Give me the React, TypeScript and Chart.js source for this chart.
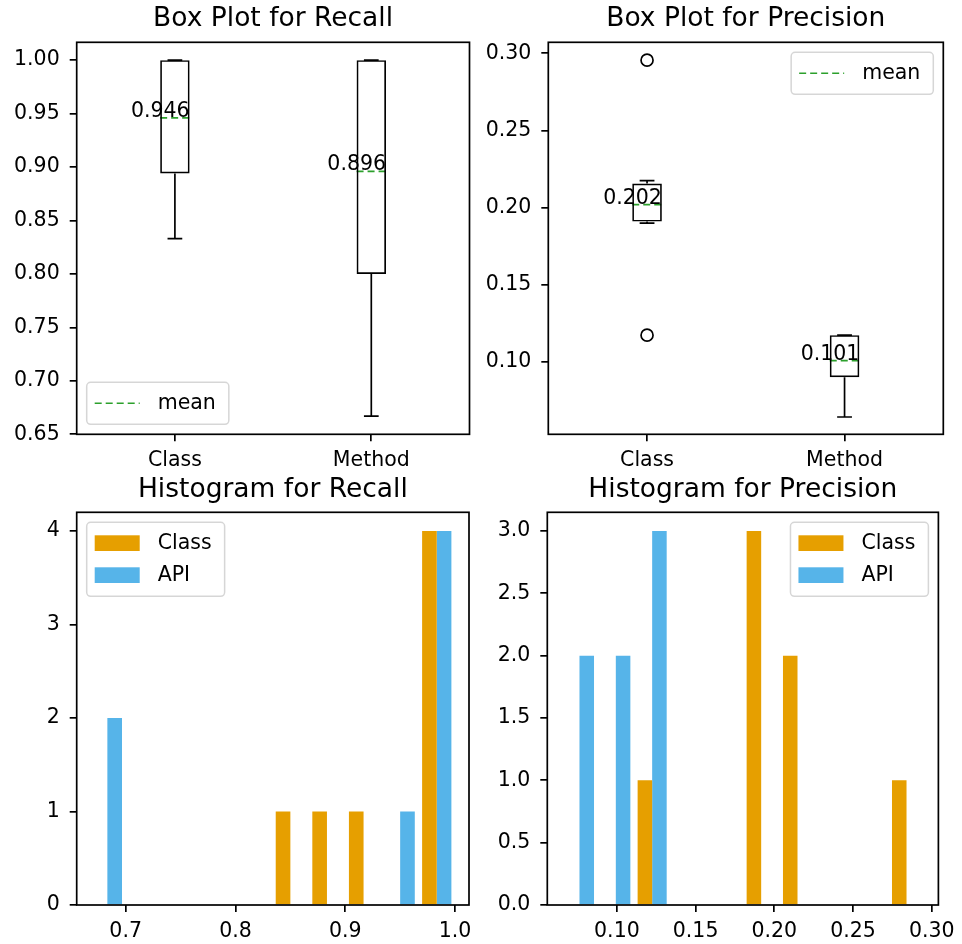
import React, { useEffect, useRef } from "react";
import { Chart, registerables } from "chart.js";

Chart.register(...registerables);

const FONT = "'DejaVu Sans', sans-serif";
const ORANGE = "#E69F00";
const BLUE = "#56B4E9";
const GREEN = "#2ca02c";

// ---------- Box plot data ----------
const boxCategories = ["Class", "Method"];

const recallQ1 = [0.894, 0.8];
const recallQ3 = [1.0, 1.0];
const recallWhiskerLow = [0.833, 0.667];
const recallWhiskerHigh = [1.0, 1.0];
const recallMean = [0.946, 0.896];
const recallOutliers: number[][] = [[], []];

const precisionQ1 = [0.191, 0.0903];
const precisionQ3 = [0.2156, 0.1175];
const precisionWhiskerLow = [0.19, 0.0645];
const precisionWhiskerHigh = [0.2175, 0.1175];
const precisionMean = [0.202, 0.101];
const precisionOutliers: number[][] = [[0.2955, 0.1175], []];

const recallBoxTicks = [0.65, 0.7, 0.75, 0.8, 0.85, 0.9, 0.95, 1.0];
const precisionBoxTicks = [0.1, 0.15, 0.2, 0.25, 0.3];

// ---------- Histogram data ----------
const histSeries = ["Class", "API"];

const recallBinCenters = [0.68333, 0.71667, 0.75, 0.78333, 0.81667, 0.85, 0.88333, 0.91667, 0.95, 0.98333];
const recallClassCounts = [0, 0, 0, 0, 0, 1, 1, 1, 0, 4];
const recallApiCounts = [2, 0, 0, 0, 0, 0, 0, 0, 1, 4];

const precisionBinCenters = [0.07624, 0.09932, 0.1224, 0.14548, 0.16856, 0.19164, 0.21472, 0.2378, 0.26088, 0.28396];
const precisionClassCounts = [0, 0, 1, 0, 0, 3, 2, 0, 0, 1];
const precisionApiCounts = [2, 2, 3, 0, 0, 0, 0, 0, 0, 0];

const recallHistXTicks = [0.7, 0.8, 0.9, 1.0];
const recallHistYTicks = [0, 1, 2, 3, 4];
const precisionHistXTicks = [0.1, 0.15, 0.2, 0.25, 0.3];
const precisionHistYTicks = [0, 0.5, 1.0, 1.5, 2.0, 2.5, 3.0];

// ---------- styling constants ----------
const BOX_W = 0.15;
const CAP_W = 0.075;
const TICK_FONT = 20.5;
const TITLE_FONT = 26.5;
const LINE_W = 1.7;

type LegendItem = { label: string; kind: "line" | "patch"; color: string };

function legendPlugin(items: LegendItem[], loc: "lower left" | "upper right" | "upper left") {
  return {
    id: "mplLegend",
    afterDraw(chart: any) {
      const { ctx, chartArea: a } = chart;
      ctx.save();
      ctx.font = `${TICK_FONT}px ${FONT}`;
      const tw = Math.max(...items.map((it) => ctx.measureText(it.label).width));
      const w = 71 + tw + 13;
      const rowH = 32;
      const h = 42 + (items.length - 1) * rowH;
      const left = loc === "upper right" ? a.right - 10 - w : a.left + 10;
      const top = loc === "lower left" ? a.bottom - 10 - h : a.top + 10;
      ctx.beginPath();
      (ctx as any).roundRect(left, top, w, h, 4);
      ctx.fillStyle = "rgba(255,255,255,0.8)";
      ctx.fill();
      ctx.strokeStyle = "rgba(204,204,204,0.8)";
      ctx.lineWidth = 1.5;
      ctx.stroke();
      items.forEach((it, k) => {
        const y = top + 21 + k * rowH;
        if (it.kind === "line") {
          ctx.save();
          ctx.strokeStyle = it.color;
          ctx.lineWidth = 1.6;
          ctx.setLineDash([7, 4]);
          ctx.beginPath();
          ctx.moveTo(left + 8, y);
          ctx.lineTo(left + 53, y);
          ctx.stroke();
          ctx.restore();
        } else {
          ctx.fillStyle = it.color;
          ctx.fillRect(left + 8, y - 8, 45, 15.7);
        }
        ctx.fillStyle = "#000";
        ctx.textAlign = "left";
        ctx.textBaseline = "middle";
        ctx.fillText(it.label, left + 71, y);
      });
      ctx.restore();
    },
  };
}

const framePlugin = {
  id: "frame",
  afterDatasetsDraw(chart: any) {
    const { ctx, chartArea: a } = chart;
    ctx.save();
    ctx.strokeStyle = "#000";
    ctx.lineWidth = LINE_W;
    ctx.strokeRect(a.left, a.top, a.right - a.left, a.bottom - a.top);
    ctx.restore();
  },
};

type Geo = { yWidth: number; rightPad: number; xHeight: number; titleTop: number; titleBottom: number };

function tickGrid() {
  return {
    display: true,
    drawOnChartArea: false,
    drawTicks: true,
    tickLength: 7,
    color: "#000",
    lineWidth: LINE_W,
    offset: false,
  };
}

function yAxis(min: number, max: number, ticks: number[], digits: number, geo: Geo) {
  return {
    type: "linear",
    min,
    max,
    afterFit: (s: any) => {
      s.width = geo.yWidth;
    },
    afterBuildTicks: (s: any) => {
      s.ticks = ticks.map((v) => ({ value: v }));
    },
    ticks: {
      callback: (v: any) => Number(v).toFixed(digits),
      font: { family: FONT, size: TICK_FONT },
      color: "#000",
      padding: 10,
      autoSkip: false,
    },
    grid: tickGrid(),
    border: { display: false },
  };
}

function xAxis(min: number, max: number, ticks: number[], label: (v: number) => string, geo: Geo) {
  return {
    type: "linear",
    min,
    max,
    offset: false,
    afterFit: (s: any) => {
      s.height = geo.xHeight;
    },
    afterBuildTicks: (s: any) => {
      s.ticks = ticks.map((v) => ({ value: v }));
    },
    ticks: {
      callback: (v: any) => label(Number(v)),
      font: { family: FONT, size: TICK_FONT },
      color: "#000",
      padding: 7,
      autoSkip: false,
      maxRotation: 0,
      minRotation: 0,
    },
    grid: tickGrid(),
    border: { display: false },
  };
}

function titleOpt(text: string, geo: Geo) {
  return {
    display: true,
    text,
    fullSize: false,
    color: "#000",
    font: { family: FONT, size: TITLE_FONT, weight: "normal" as const, lineHeight: 1.2 },
    padding: { top: geo.titleTop, bottom: geo.titleBottom },
  };
}

type BoxPanel = {
  title: string;
  q1: number[];
  q3: number[];
  lo: number[];
  hi: number[];
  mean: number[];
  outliers: number[][];
  yMin: number;
  yMax: number;
  yTicks: number[];
  legendLoc: "lower left" | "upper right";
  geo: Geo;
};

function buildBox(canvas: HTMLCanvasElement, p: BoxPanel) {
  const positions = boxCategories.map((_, i) => i + 1);
  const boxData = positions.map((x, i) => ({ x, y: [p.q1[i], p.q3[i]] }));
  const whisker: any[] = [];
  const caps: any[] = [];
  const means: any[] = [];
  const fliers: any[] = [];
  positions.forEach((x, i) => {
    whisker.push({ x, y: p.q1[i] }, { x, y: p.lo[i] }, { x, y: null }, { x, y: p.q3[i] }, { x, y: p.hi[i] }, { x, y: null });
    caps.push(
      { x: x - CAP_W / 2, y: p.lo[i] },
      { x: x + CAP_W / 2, y: p.lo[i] },
      { x, y: null },
      { x: x - CAP_W / 2, y: p.hi[i] },
      { x: x + CAP_W / 2, y: p.hi[i] },
      { x, y: null }
    );
    means.push({ x: x - BOX_W / 2, y: p.mean[i] }, { x: x + BOX_W / 2, y: p.mean[i] }, { x, y: null });
    p.outliers[i].forEach((v) => fliers.push({ x, y: v }));
  });

  const meanText = {
    id: "meanText",
    afterDatasetsDraw(chart: any) {
      const { ctx } = chart;
      const xs = chart.scales.x;
      const ys = chart.scales.y;
      ctx.save();
      ctx.font = `${TICK_FONT}px ${FONT}`;
      ctx.fillStyle = "#000";
      ctx.textAlign = "right";
      ctx.textBaseline = "alphabetic";
      positions.forEach((x, i) => {
        ctx.fillText(p.mean[i].toFixed(3), xs.getPixelForValue(x + BOX_W / 2), ys.getPixelForValue(p.mean[i]) - 1);
      });
      ctx.restore();
    },
  };

  const lineDs = (data: any[], color: string, dash: number[] = [], width = LINE_W) => ({
    type: "line",
    data,
    borderColor: color,
    borderWidth: width,
    borderDash: dash,
    pointRadius: 0,
    fill: false,
    spanGaps: false,
    tension: 0,
  });

  return new Chart(canvas, {
    type: "bar",
    data: {
      datasets: [
        {
          type: "bar",
          data: boxData as any,
          backgroundColor: "rgba(0,0,0,0)",
          borderColor: "#000",
          borderWidth: LINE_W,
          borderSkipped: false,
          categoryPercentage: BOX_W,
          barPercentage: 1,
        },
        lineDs(whisker, "#000"),
        lineDs(caps, "#000"),
        lineDs(means, GREEN, [7, 4], 1.6),
        {
          type: "scatter",
          data: fliers,
          pointRadius: 6,
          pointBorderColor: "#000",
          pointBackgroundColor: "rgba(0,0,0,0)",
          borderColor: "#000",
          backgroundColor: "rgba(0,0,0,0)",
          pointBorderWidth: LINE_W,
          showLine: false,
        },
      ] as any,
    },
    options: {
      responsive: false,
      animation: false,
      devicePixelRatio: 1,
      layout: { padding: { left: 0, right: p.geo.rightPad, top: 0, bottom: 0 } },
      scales: {
        x: xAxis(0.5, 2.5, positions, (v) => boxCategories[Math.round(v) - 1] ?? "", p.geo),
        y: yAxis(p.yMin, p.yMax, p.yTicks, 2, p.geo),
      } as any,
      plugins: {
        legend: { display: false },
        tooltip: { enabled: false },
        title: titleOpt(p.title, p.geo),
      },
    },
    plugins: [framePlugin, meanText, legendPlugin([{ label: "mean", kind: "line", color: GREEN }], p.legendLoc)],
  } as any);
}

type HistPanel = {
  title: string;
  centers: number[];
  classCounts: number[];
  apiCounts: number[];
  xMin: number;
  xMax: number;
  xTicks: number[];
  xDigits: number;
  yMax: number;
  yTicks: number[];
  yDigits: number;
  legendLoc: "upper left" | "upper right";
  geo: Geo;
};

function buildHist(canvas: HTMLCanvasElement, p: HistPanel) {
  const mk = (label: string, counts: number[], color: string) => ({
    label,
    data: p.centers.map((x, i) => ({ x, y: counts[i] })),
    backgroundColor: color,
    borderWidth: 0,
    categoryPercentage: 0.8,
    barPercentage: 1,
  });
  return new Chart(canvas, {
    type: "bar",
    data: {
      datasets: [mk(histSeries[0], p.classCounts, ORANGE), mk(histSeries[1], p.apiCounts, BLUE)] as any,
    },
    options: {
      responsive: false,
      animation: false,
      devicePixelRatio: 1,
      layout: { padding: { left: 0, right: p.geo.rightPad, top: 0, bottom: 0 } },
      scales: {
        x: xAxis(p.xMin, p.xMax, p.xTicks, (v) => v.toFixed(p.xDigits), p.geo),
        y: yAxis(0, p.yMax, p.yTicks, p.yDigits, p.geo),
      } as any,
      plugins: {
        legend: { display: false },
        tooltip: { enabled: false },
        title: titleOpt(p.title, p.geo),
      },
    },
    plugins: [
      framePlugin,
      legendPlugin(
        [
          { label: histSeries[0], kind: "patch", color: ORANGE },
          { label: histSeries[1], kind: "patch", color: BLUE },
        ],
        p.legendLoc
      ),
    ],
  } as any);
}

const W = 481;
const H = 472;

function Panel({ left, top, build }: { left: number; top: number; build: (c: HTMLCanvasElement) => Chart }) {
  const ref = useRef<HTMLCanvasElement | null>(null);
  useEffect(() => {
    if (!ref.current) return;
    const chart = build(ref.current);
    return () => chart.destroy();
  }, []);
  return (
    <canvas
      ref={ref}
      width={W}
      height={H}
      style={{ position: "absolute", left, top, width: W, height: H, display: "block" }}
    />
  );
}

export default function App() {
  const topGeoL: Geo = { yWidth: 76.7, rightPad: 11.5, xHeight: 37.7, titleTop: 3.1, titleBottom: 7.4 };
  const topGeoR: Geo = { yWidth: 67.3, rightPad: 18.7, xHeight: 37.7, titleTop: 3.1, titleBottom: 7.4 };
  const botGeoL: Geo = { yWidth: 76.7, rightPad: 12, xHeight: 39, titleTop: 2.6, titleBottom: 5.9 };
  const botGeoR: Geo = { yWidth: 66.3, rightPad: 18.7, xHeight: 39, titleTop: 2.6, titleBottom: 5.9 };

  return (
    <div style={{ position: "absolute", left: 0, top: 0, width: 962, height: 944, background: "#fff" }}>
      <Panel
        left={0}
        top={0}
        build={(c) =>
          buildBox(c, {
            title: "Box Plot for Recall",
            q1: recallQ1,
            q3: recallQ3,
            lo: recallWhiskerLow,
            hi: recallWhiskerHigh,
            mean: recallMean,
            outliers: recallOutliers,
            yMin: 0.65,
            yMax: 1.0167,
            yTicks: recallBoxTicks,
            legendLoc: "lower left",
            geo: topGeoL,
          })
        }
      />
      <Panel
        left={481}
        top={0}
        build={(c) =>
          buildBox(c, {
            title: "Box Plot for Precision",
            q1: precisionQ1,
            q3: precisionQ3,
            lo: precisionWhiskerLow,
            hi: precisionWhiskerHigh,
            mean: precisionMean,
            outliers: precisionOutliers,
            yMin: 0.0533,
            yMax: 0.3071,
            yTicks: precisionBoxTicks,
            legendLoc: "upper right",
            geo: topGeoR,
          })
        }
      />
      <Panel
        left={0}
        top={472}
        build={(c) =>
          buildHist(c, {
            title: "Histogram for Recall",
            centers: recallBinCenters,
            classCounts: recallClassCounts,
            apiCounts: recallApiCounts,
            xMin: 0.6554,
            xMax: 1.0127,
            xTicks: recallHistXTicks,
            xDigits: 1,
            yMax: 4.2,
            yTicks: recallHistYTicks,
            yDigits: 0,
            legendLoc: "upper left",
            geo: botGeoL,
          })
        }
      />
      <Panel
        left={481}
        top={472}
        build={(c) =>
          buildHist(c, {
            title: "Histogram for Precision",
            centers: precisionBinCenters,
            classCounts: precisionClassCounts,
            apiCounts: precisionApiCounts,
            xMin: 0.0558,
            xMax: 0.3042,
            xTicks: precisionHistXTicks,
            xDigits: 2,
            yMax: 3.15,
            yTicks: precisionHistYTicks,
            yDigits: 1,
            legendLoc: "upper right",
            geo: botGeoR,
          })
        }
      />
    </div>
  );
}
